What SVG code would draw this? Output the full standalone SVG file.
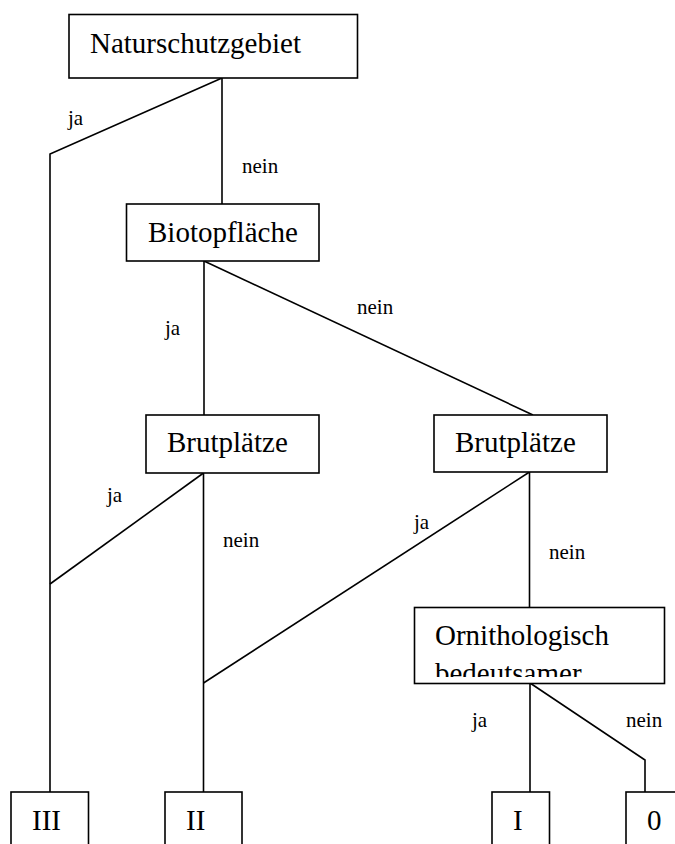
<svg xmlns="http://www.w3.org/2000/svg" width="675" height="844" viewBox="0 0 675 844">
<style>
.box{fill:#fff;stroke:#000;stroke-width:1.6}
text{font-family:'Liberation Serif','Times New Roman','DejaVu Serif',serif;fill:#000}
.t{font-size:29px}
.l{font-size:21px}
.c{fill:none;stroke:#000;stroke-width:1.6}
</style>
<defs>
<clipPath id="clipOrn"><rect x="414" y="607" width="251" height="70"/></clipPath>
</defs>
<rect width="675" height="844" fill="#fff"/>
<g id="connectors" font-family="Liberation Serif, serif">
<polyline class="c" points="222,78 50,154 50,792"/>
<line class="c" x1="222" y1="78" x2="222" y2="204"/>
<line class="c" x1="204" y1="261" x2="204" y2="415"/>
<line class="c" x1="204" y1="261" x2="533" y2="415"/>
<line class="c" x1="203.5" y1="473" x2="50" y2="584"/>
<line class="c" x1="203.5" y1="473" x2="203.5" y2="792"/>
<line class="c" x1="529.5" y1="472" x2="203.5" y2="683"/>
<line class="c" x1="529.5" y1="472" x2="529.5" y2="607"/>
<line class="c" x1="530" y1="683" x2="530" y2="792"/>
<polyline class="c" points="530,683 645,760 645,792"/>
<text class="l" x="68" y="125">ja</text>
<text class="l" x="242" y="173">nein</text>
<text class="l" x="165" y="335">ja</text>
<text class="l" x="357" y="314">nein</text>
<text class="l" x="107" y="502">ja</text>
<text class="l" x="223" y="547">nein</text>
<text class="l" x="414" y="529">ja</text>
<text class="l" x="549" y="559">nein</text>
<text class="l" x="472" y="727">ja</text>
<text class="l" x="626" y="727">nein</text>
</g>
<g id="naturschutzgebiet">
<rect class="box" x="69" y="14.5" width="288.5" height="63.5"/>
<text class="t" x="90" y="53">Naturschutzgebiet</text>
</g>
<g id="biotopflaeche">
<rect class="box" x="126.5" y="204" width="192.5" height="57"/>
<text class="t" x="148" y="242">Biotopfläche</text>
</g>
<g id="brutplaetze1">
<rect class="box" x="146" y="415" width="173" height="58"/>
<text class="t" x="167" y="452">Brutplätze</text>
</g>
<g id="brutplaetze2">
<rect class="box" x="434" y="415" width="173" height="57"/>
<text class="t" x="455" y="452">Brutplätze</text>
</g>
<g id="ornithologisch">
<rect class="box" x="414.5" y="607.5" width="250" height="76"/>
<g clip-path="url(#clipOrn)">
<text class="t" x="435" y="645">Ornithologisch</text>
<text class="t" x="435" y="683">bedeutsamer</text>
</g>
</g>
<g id="klasse3">
<rect class="box" x="11" y="792" width="77.5" height="70"/>
<text class="t" x="32" y="830">III</text>
</g>
<g id="klasse2">
<rect class="box" x="165" y="792" width="77" height="70"/>
<text class="t" x="186" y="830">II</text>
</g>
<g id="klasse1">
<rect class="box" x="492" y="792" width="57.5" height="70"/>
<text class="t" x="513" y="830">I</text>
</g>
<g id="klasse0">
<rect class="box" x="626" y="792" width="70" height="70"/>
<text class="t" x="647" y="830">0</text>
</g>
</svg>
